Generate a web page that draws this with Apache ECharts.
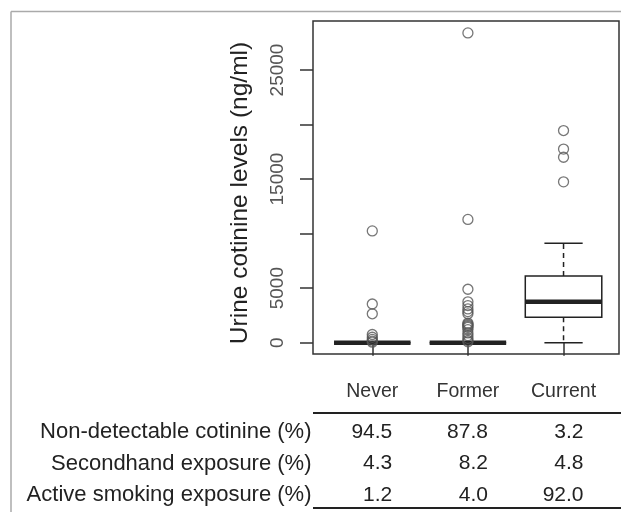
<!DOCTYPE html>
<html>
<head>
<meta charset="utf-8">
<script src="https://cdn.jsdelivr.net/npm/echarts@6/dist/echarts.min.js"></script>
<style>
html, body { margin: 0; padding: 0; background: #fff; }
#main { width: 621px; height: 512px; }
</style>
</head>
<body>
<div id="main"></div>
<script>
// groups on the x axis
var categories = ['Never', 'Former', 'Current'];
// min, Q1, median, Q3, max (ng/ml)
var boxStats = [
	[0, 0, 0, 0, 0],
	[0, 0, 0, 0, 0],
	[0, 2330, 3760, 6120, 9120]
];
var outliersNever = [10250, 3550, 2650, 750, 500, 300, 150, 50];
var outliersFormer = [28400, 11300, 4900, 3750, 3400, 3100, 2850, 2650, 1800, 1700, 1600, 1500, 1400, 1200, 900, 650, 400, 200, 80];
var outliersCurrent = [19450, 17750, 17000, 14750];
var yTickValues = [0, 5000, 10000, 15000, 20000, 25000];
var yLabelValues = [0, 5000, 15000, 25000];
// table under the plot
var rowLabels = ['Non-detectable cotinine (%)', 'Secondhand exposure (%)', 'Active smoking exposure (%)'];
var rowValues = [
	[94.5, 87.8, 3.2],
	[4.3, 8.2, 4.8],
	[1.2, 4.0, 92.0]
];

var FONT = "'Liberation Sans', Arial, Helvetica, sans-serif";
var INK = '#222';

var chart = echarts.init(document.getElementById('main'), null, {renderer: 'canvas'});

function renderBox(params, api) {
	var x = api.value(0);
	var pLo = api.coord([x, api.value(1)]);
	var pQ1 = api.coord([x, api.value(2)]);
	var pMed = api.coord([x, api.value(3)]);
	var pQ3 = api.coord([x, api.value(4)]);
	var pHi = api.coord([x, api.value(5)]);
	var unit = api.size([1, 0])[0];
	var bw = unit * 0.8 / 2, cw = unit * 0.4 / 2;
	var cx = pLo[0];
	var dashed = {stroke: INK, lineWidth: 1.5, lineDash: [5, 4]};
	var solid = {stroke: INK, lineWidth: 1.5};
	return {
		type: 'group',
		children: [
			{type: 'line', shape: {x1: cx, y1: pQ3[1], x2: cx, y2: pHi[1]}, style: dashed},
			{type: 'line', shape: {x1: cx, y1: pQ1[1], x2: cx, y2: pLo[1]}, style: dashed},
			{type: 'line', shape: {x1: cx - cw, y1: pHi[1], x2: cx + cw, y2: pHi[1]}, style: solid},
			{type: 'line', shape: {x1: cx - cw, y1: pLo[1], x2: cx + cw, y2: pLo[1]}, style: solid},
			{type: 'rect', shape: {x: cx - bw, y: pQ3[1], width: 2 * bw, height: pQ1[1] - pQ3[1]},
				style: {fill: '#fff', stroke: INK, lineWidth: 1.5}},
			{type: 'line', shape: {x1: cx - bw, y1: pMed[1], x2: cx + bw, y2: pMed[1]},
				style: {stroke: INK, lineWidth: 4.5}}
		]
	};
}

var boxData = boxStats.map(function(s, i) { return [i + 1].concat(s); });
var outlierData = [];
[outliersNever, outliersFormer, outliersCurrent].forEach(function(arr, i) {
	arr.forEach(function(v) { outlierData.push([i + 1, v]); });
});

var option = {
	animation: false,
	backgroundColor: '#fff',
	grid: {left: 313, right: 2, top: 21, bottom: 158, show: true, borderColor: '#333', borderWidth: 1.5},
	xAxis: {
		type: 'value',
		min: 0.38,
		max: 3.58,
		splitLine: {show: false},
		axisLine: {show: false},
		axisTick: {show: true, customValues: [1, 2, 3], length: 13, lineStyle: {color: '#333', width: 1.5}},
		axisLabel: {
			customValues: [1, 2, 3],
			formatter: function(v) { return categories[Math.round(v) - 1]; },
			margin: 28,
			fontSize: 19.5,
			fontFamily: FONT,
			color: '#333'
		}
	},
	yAxis: {
		type: 'value',
		min: -1036,
		max: 29492,
		splitLine: {show: false},
		axisLine: {show: false},
		axisTick: {show: true, customValues: yTickValues, length: 13, lineStyle: {color: '#333', width: 1.5}},
		axisLabel: {
			customValues: yLabelValues,
			formatter: function(v) { return String(v); },
			rotate: 90,
			margin: 26,
			fontSize: 19,
			fontFamily: FONT,
			color: '#555'
		}
	},
	series: [
		{
			type: 'custom',
			renderItem: renderBox,
			data: boxData,
			encode: {x: 0, y: [1, 2, 3, 4, 5]},
			z: 2
		},
		{
			type: 'scatter',
			data: outlierData,
			symbol: 'circle',
			symbolSize: 10,
			itemStyle: {color: 'rgba(0,0,0,0)', borderColor: '#555', borderWidth: 1.3},
			z: 3
		}
	]
};
chart.setOption(option);

// frame, y title and table, placed from the x scale
var colX = [1, 2, 3].map(function(v) { return chart.convertToPixel({xAxisIndex: 0}, v); });
var rowY = [432, 463.5, 495];
var graphics = [
	{type: 'line', shape: {x1: 11, y1: 11.5, x2: 621, y2: 11.5}, style: {stroke: '#aaa', lineWidth: 1.5}},
	{type: 'line', shape: {x1: 11, y1: 11.5, x2: 11, y2: 512}, style: {stroke: '#aaa', lineWidth: 1.5}},
	{type: 'text', x: 240, y: 193, rotation: Math.PI / 2,
		style: {text: 'Urine cotinine levels (ng/ml)', fontSize: 24.5, fontFamily: FONT, fill: INK, align: 'center', verticalAlign: 'middle'}},
	{type: 'line', shape: {x1: 313, y1: 413, x2: 621, y2: 413}, style: {stroke: INK, lineWidth: 2}},
	{type: 'line', shape: {x1: 313, y1: 508, x2: 621, y2: 508}, style: {stroke: INK, lineWidth: 2}}
];
rowLabels.forEach(function(label, r) {
	graphics.push({type: 'text', x: 311.5, y: rowY[r],
		style: {text: label, fontSize: 22, fontFamily: FONT, fill: INK, align: 'right', verticalAlign: 'middle'}});
	rowValues[r].forEach(function(v, c) {
		graphics.push({type: 'text', x: colX[c] + 20, y: rowY[r],
			style: {text: v.toFixed(1), fontSize: 21, fontFamily: FONT, fill: INK, align: 'right', verticalAlign: 'middle'}});
	});
});
chart.setOption({graphic: graphics});
</script>
</body>
</html>
